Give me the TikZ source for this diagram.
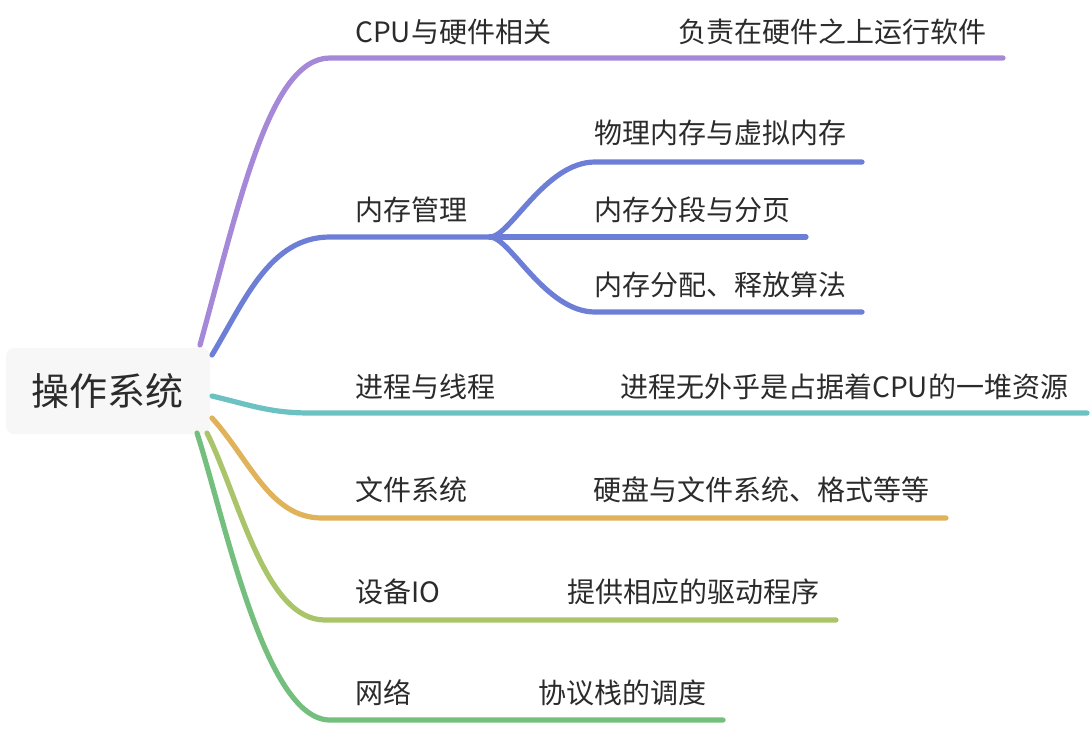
\documentclass[tikz,border=0pt]{standalone}
\usepackage{fontspec}
\setmainfont{Noto Sans CJK SC}
\usetikzlibrary{calc,positioning}

\definecolor{cpuC}{HTML}{A688D8}
\definecolor{memC}{HTML}{6C7ED6}
\definecolor{procC}{HTML}{6CC2C2}
\definecolor{fileC}{HTML}{E0B25A}
\definecolor{devC}{HTML}{AAC46A}
\definecolor{netC}{HTML}{74BF7E}
\definecolor{textC}{HTML}{2B2B2B}

\begin{document}
\begin{tikzpicture}[x=0.5pt, y=-0.5pt, every node/.style={text=textC}]
  \tikzset{
    topic/.style={anchor=west, inner sep=0pt, font=\fontsize{14pt}{16pt}\selectfont},
    branch/.style={line width=2.6pt, line cap=round}
  }
  \useasboundingbox (0,0) rectangle (1092,728);

  % Root
  \node[fill=black!3, rounded corners=4pt, minimum width=102pt, minimum height=43pt,
        font=\fontsize{19pt}{22pt}\selectfont] (root) at (108,391) {操作系统};

  % Define points
  \coordinate (cpuS) at (200,345);
  \coordinate (memS) at (212,355);
  \coordinate (procS) at (212,396);
  \coordinate (fileS) at (212,418);
  \coordinate (devS) at (207,433);
  \coordinate (netS) at (197,433);

  \coordinate (cpuL) at (330,58);   \coordinate (cpuR) at (1003,58);
  \coordinate (memL) at (330,237);  \coordinate (memF) at (490,237);
  \coordinate (procL) at (310,413); \coordinate (procR) at (1087,413);
  \coordinate (fileL) at (322,518); \coordinate (fileR) at (946,518);
  \coordinate (devL) at (325,620);  \coordinate (devR) at (836,620);
  \coordinate (netL) at (330,720);  \coordinate (netR) at (723,720);

  \coordinate (memAL) at (595,162); \coordinate (memAR) at (862,162);
  \coordinate (memBR) at (806,237);
  \coordinate (memCL) at (595,312); \coordinate (memCR) at (862,312);

  % Draw branches
  \draw[branch, cpuC] (cpuS) .. controls (240,200) and (270,58) .. (cpuL) -- (cpuR);
  \draw[branch, memC] (memS) .. controls (245,300) and (270,237) .. (memL) -- (memF);
  \draw[branch, memC] (memF) .. controls (510,237) and (545,162) .. (memAL) -- (memAR);
  \draw[branch, memC] (memF) -- (memBR);
  \draw[branch, memC] (memF) .. controls (510,237) and (545,312) .. (memCL) -- (memCR);
  \draw[branch, procC] (procS) .. controls (250,405) and (270,413) .. (procL) -- (procR);
  \draw[branch, fileC] (fileS) .. controls (250,460) and (270,518) .. (fileL) -- (fileR);
  \draw[branch, devC] (devS) .. controls (240,500) and (265,620) .. (devL) -- (devR);
  \draw[branch, netC] (netS) .. controls (225,520) and (265,720) .. (netL) -- (netR);

  % Label branches
  \node[topic] (cpu) at (355,32) {CPU与硬件相关};
  \node[topic] (cpuD) at (678,32) {负责在硬件之上运行软件};
  \node[topic] (mem) at (355,210) {内存管理};
  \node[topic] (memA) at (594,133) {物理内存与虚拟内存};
  \node[topic] (memB) at (594,210) {内存分段与分页};
  \node[topic] (memC) at (594,285) {内存分配、释放算法};
  \node[topic] (proc) at (355,387) {进程与线程};
  \node[topic] (procD) at (620,387) {进程无外乎是占据着CPU的一堆资源};
  \node[topic] (file) at (355,490) {文件系统};
  \node[topic] (fileD) at (593,490) {硬盘与文件系统、格式等等};
  \node[topic] (dev) at (355,592) {设备IO};
  \node[topic] (devD) at (567,592) {提供相应的驱动程序};
  \node[topic] (net) at (355,693) {网络};
  \node[topic] (netD) at (538,693) {协议栈的调度};
\end{tikzpicture}
\end{document}
